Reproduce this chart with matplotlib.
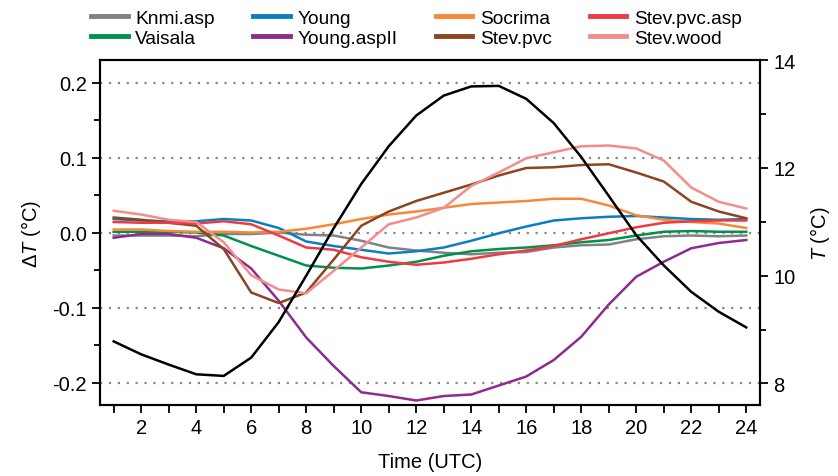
import matplotlib
matplotlib.use('Agg')
import matplotlib.pyplot as plt
from matplotlib.ticker import MultipleLocator

plt.rcParams['font.family'] = ['Liberation Sans', 'DejaVu Sans']
plt.rcParams['mathtext.fontset'] = 'custom'
plt.rcParams['mathtext.rm'] = 'Liberation Sans'
plt.rcParams['mathtext.it'] = 'Liberation Sans:italic'

# 时间 (UTC)
hours = list(range(1, 25))

# 各传感器的温差 ΔT (°C)
knmi_asp = [-0.004, -0.004, -0.004, -0.005, -0.002, -0.002, 0.000, -0.003, -0.004, -0.011, -0.020, -0.024,
            -0.027, -0.029, -0.027, -0.026, -0.020, -0.017, -0.016, -0.009, -0.005, -0.004, -0.005, -0.004]
vaisala = [0.001, 0.001, 0.001, 0.000, -0.004, -0.018, -0.031, -0.044, -0.047, -0.048, -0.044, -0.039,
           -0.031, -0.025, -0.022, -0.020, -0.017, -0.013, -0.010, -0.004, 0.001, 0.002, 0.001, 0.001]
young = [0.018, 0.016, 0.015, 0.015, 0.018, 0.016, 0.006, -0.012, -0.018, -0.023, -0.028, -0.025,
         -0.020, -0.011, -0.001, 0.008, 0.016, 0.019, 0.021, 0.022, 0.020, 0.018, 0.017, 0.018]
young_aspII = [-0.007, -0.002, -0.002, -0.007, -0.021, -0.048, -0.091, -0.140, -0.178, -0.213, -0.218, -0.224,
               -0.218, -0.216, -0.204, -0.192, -0.170, -0.139, -0.096, -0.059, -0.039, -0.021, -0.014, -0.010]
socrima = [0.004, 0.004, 0.002, 0.001, 0.001, 0.000, 0.001, 0.005, 0.011, 0.018, 0.024, 0.028,
           0.033, 0.038, 0.040, 0.042, 0.045, 0.045, 0.036, 0.023, 0.017, 0.014, 0.012, 0.006]
stev_pvc = [0.020, 0.017, 0.013, 0.009, -0.022, -0.080, -0.094, -0.080, -0.036, 0.009, 0.028, 0.042,
            0.053, 0.064, 0.076, 0.086, 0.087, 0.090, 0.091, 0.080, 0.068, 0.041, 0.028, 0.019]
stev_pvc_asp = [0.014, 0.013, 0.013, 0.012, 0.015, 0.011, -0.004, -0.020, -0.023, -0.033, -0.039, -0.043,
                -0.040, -0.035, -0.029, -0.024, -0.018, -0.009, -0.001, 0.007, 0.013, 0.015, 0.016, 0.016]
stev_wood = [0.029, 0.024, 0.017, 0.014, -0.013, -0.057, -0.076, -0.081, -0.051, -0.020, 0.011, 0.020,
             0.033, 0.062, 0.080, 0.099, 0.107, 0.115, 0.116, 0.112, 0.096, 0.060, 0.041, 0.032]

# 参考气温 T (°C)
temp = [8.78, 8.54, 8.35, 8.17, 8.14, 8.48, 9.14, 10.00, 10.88, 11.70, 12.40, 12.97,
        13.34, 13.51, 13.52, 13.28, 12.83, 12.20, 11.48, 10.75, 10.19, 9.70, 9.33, 9.04]

series = [
    ('Knmi.asp', knmi_asp, '#808285'),
    ('Vaisala', vaisala, '#00914a'),
    ('Young', young, '#0a7ec2'),
    ('Young.aspII', young_aspII, '#8e2b8e'),
    ('Socrima', socrima, '#f7883a'),
    ('Stev.pvc', stev_pvc, '#8b4520'),
    ('Stev.pvc.asp', stev_pvc_asp, '#ee3a43'),
    ('Stev.wood', stev_wood, '#f48c8c'),
]

fig = plt.figure(figsize=(8.38, 4.77), dpi=100)
ax = fig.add_axes([0.1193, 0.1488, 0.7876, 0.7233])

for yv in [-0.2, -0.1, 0.0, 0.1, 0.2]:
    ax.axhline(yv, color='#888888', linestyle=(0, (1, 3)), linewidth=1.6, zorder=0)

for name, vals, col in series:
    ax.plot(hours, vals, color=col, linewidth=1.8, label=name)

ax.set_xlim(0.5, 24.5)
ax.set_ylim(-0.23, 0.23)
ax.set_xticks(hours)
ax.set_xticklabels([str(h) if h % 2 == 0 else '' for h in hours])
ax.set_yticks([-0.2, -0.1, 0.0, 0.1, 0.2])
ax.set_yticklabels(['-0.2', '-0.1', '0.0', '0.1', '0.2'])
ax.yaxis.set_minor_locator(MultipleLocator(0.05))
ax.tick_params(axis='both', which='major', labelsize=14.5, length=6, width=1.3, direction='out')
ax.tick_params(axis='y', which='minor', length=4, width=1.3)
ax.set_xlabel('Time (UTC)', fontsize=14.5, labelpad=11)
ax.set_ylabel(r'Δ$T$ (°C)', fontsize=14.5, labelpad=7)

ax2 = ax.twinx()
ax2.plot(hours, temp, color='black', linewidth=1.8)
ax2.set_ylim(7.6, 14)
ax2.set_yticks([8, 10, 12, 14])
ax2.yaxis.set_minor_locator(MultipleLocator(1))
ax2.tick_params(axis='y', which='major', labelsize=14.5, length=6, width=1.3)
ax2.tick_params(axis='y', which='minor', length=4, width=1.3)
ax2.set_ylabel(r'$T$ (°C)', fontsize=14.5, labelpad=9)

for a in (ax, ax2):
    for s in a.spines.values():
        s.set_linewidth(1.5)

fig.legend(loc='upper center', bbox_to_anchor=(0.497, 1.015), ncol=4, frameon=False,
           fontsize=13.8, handlelength=1.9, handletextpad=0.4, columnspacing=2.0,
           labelspacing=0.15)
for line in fig.legends[0].get_lines():
    line.set_linewidth(3.5)

plt.savefig('out.png')
plt.close()
